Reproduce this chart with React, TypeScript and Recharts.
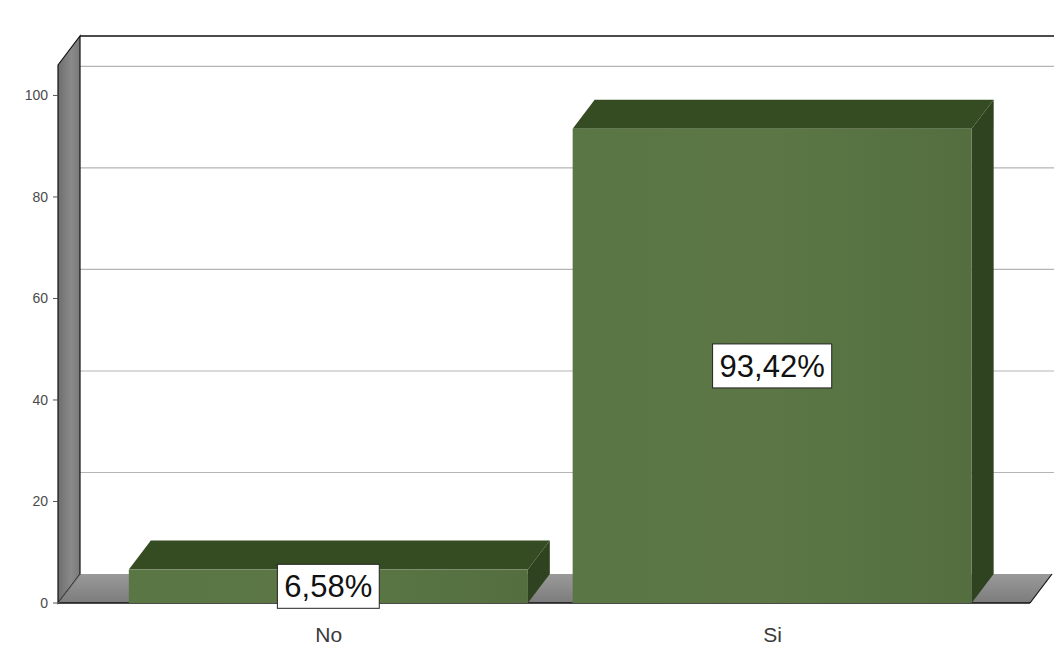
import React from 'react';
import { BarChart, Bar, XAxis, YAxis, ReferenceArea, LabelList } from 'recharts';

// values
const categories = ['No', 'Si'];
const percentages = [6.58, 93.42];
const yTicks = [0, 20, 40, 60, 80, 100];

const Y_MAX = 106;
const DX = 22;
const DY = -29;
const FONT = '"Liberation Sans", Arial, sans-serif';

const data = categories.map((name, i) => ({ idx: i, name, value: percentages[i] }));

const fmt = (v: number) => v.toFixed(2).replace('.', ',') + '%';

// rough Arial glyph widths for the label box
const textWidth = (s: string, size: number) =>
  s.split('').reduce((w, c) => w + (c === ',' ? 0.278 : c === '%' ? 0.889 : 0.556), 0) * size;

const Walls = (props: any) => {
  const { x, y, width, height } = props;
  const bottom = y + height;
  return (
    <g>
      <defs>
        <linearGradient id="wallGrad" x1="0" y1="0" x2="1" y2="0">
          <stop offset="0%" stopColor="#6e6e6e" />
          <stop offset="60%" stopColor="#8a8a8a" />
          <stop offset="100%" stopColor="#7a7a7a" />
        </linearGradient>
        <linearGradient id="floorGrad" x1="0" y1="0" x2="0" y2="1">
          <stop offset="0%" stopColor="#9a9a9a" />
          <stop offset="100%" stopColor="#7c7c7c" />
        </linearGradient>
      </defs>
      {/* back wall */}
      <rect x={x + DX} y={y + DY} width={width + 40} height={height} fill="#fff" />
      <line x1={x + DX} y1={y + DY} x2={x + width + DX + 40} y2={y + DY} stroke="#111" strokeWidth={1.5} />
      {yTicks.filter((v) => v > 0).map((v) => {
        const gy = bottom - (v / Y_MAX) * height + DY;
        return <line key={v} x1={x + DX} y1={gy} x2={x + width + DX + 40} y2={gy} stroke="#b5b5b5" strokeWidth={1.2} />;
      })}
      {/* floor */}
      <polygon
        points={`${x},${bottom} ${x + DX},${bottom + DY} ${x + width + DX},${bottom + DY} ${x + width},${bottom}`}
        fill="url(#floorGrad)"
      />
      <line x1={x} y1={bottom} x2={x + width} y2={bottom} stroke="#111" strokeWidth={1.5} />
      <line x1={x + width} y1={bottom} x2={x + width + DX} y2={bottom + DY} stroke="#111" strokeWidth={1.2} />
      {/* left wall */}
      <polygon
        points={`${x},${y} ${x + DX},${y + DY} ${x + DX},${bottom + DY} ${x},${bottom}`}
        fill="url(#wallGrad)"
        stroke="#111"
        strokeWidth={1.2}
      />
      <polygon
        points={`${x + DX},${bottom + DY} ${x + DX + 1},${bottom + DY} ${x + 1},${bottom} ${x},${bottom}`}
        fill="#7c7c7c"
      />
    </g>
  );
};

const Bar3D = (props: any) => {
  const { x, y, width, height } = props;
  return (
    <g>
      <defs>
        <linearGradient id="frontGrad" x1="0" y1="0" x2="1" y2="0">
          <stop offset="0%" stopColor="#5a7644" />
          <stop offset="50%" stopColor="#5c7745" />
          <stop offset="100%" stopColor="#546e40" />
        </linearGradient>
      </defs>
      <polygon
        points={`${x + width},${y} ${x + width + DX},${y + DY} ${x + width + DX},${y + height + DY} ${x + width},${y + height}`}
        fill="#2f4321"
      />
      <polygon
        points={`${x},${y} ${x + DX},${y + DY} ${x + width + DX},${y + DY} ${x + width},${y}`}
        fill="#354b22"
      />
      <rect x={x} y={y} width={width} height={height} fill="url(#frontGrad)" />
    </g>
  );
};

const ValueLabel = (props: any) => {
  const { x, y, width, height, value } = props;
  const text = fmt(value);
  const size = 31;
  const w = textWidth(text, size) + 14;
  const h = 44;
  const cx = x + width / 2;
  const cy = y + height / 2;
  return (
    <g>
      <rect x={cx - w / 2} y={cy - h / 2} width={w} height={h} fill="#fff" stroke="#222" strokeWidth={1} />
      <text x={cx} y={cy} dy="0.36em" textAnchor="middle" fontSize={size} fontFamily={FONT} fill="#111">
        {text}
      </text>
    </g>
  );
};

export default function App() {
  return (
    <div style={{ position: 'absolute', left: 0, top: 0, width: 1054, height: 655, background: '#fff' }}>
      <BarChart width={1054} height={655} data={data} margin={{ top: 65, right: 24, bottom: 22, left: 0 }}>
        <XAxis
          type="number"
          dataKey="idx"
          domain={[-0.61, 1.58]}
          ticks={[0, 1]}
          tickFormatter={(v: number) => categories[v] ?? ''}
          axisLine={false}
          tickLine={false}
          height={30}
          tickMargin={18}
          tick={{ fontSize: 21, fill: '#3a3a3a', fontFamily: FONT }}
        />
        <YAxis
          domain={[0, Y_MAX]}
          ticks={yTicks}
          width={58}
          axisLine={false}
          tickLine={{ stroke: '#555' }}
          tickSize={5}
          tickMargin={5}
          tick={{ fontSize: 14, fill: '#4a4a4a', fontFamily: FONT }}
        />
        <ReferenceArea y1={0} y2={Y_MAX} shape={Walls} ifOverflow="visible" />
        <Bar dataKey="value" barSize={399} isAnimationActive={false} shape={Bar3D}>
          <LabelList dataKey="value" content={ValueLabel} />
        </Bar>
      </BarChart>
    </div>
  );
}
